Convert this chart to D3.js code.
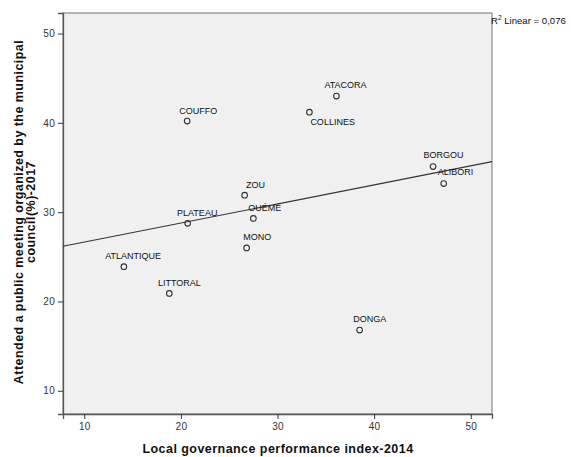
<!DOCTYPE html>
<html><head><meta charset="utf-8">
<script src="https://cdn.jsdelivr.net/npm/d3@7"></script>
<style>
body{margin:0;background:#fff;}
text{font-family:"Liberation Sans",Arial,sans-serif;}
</style></head>
<body><svg id="chart" width="571" height="457"></svg>
<script>
const departments = ["COUFFO","ATACORA","COLLINES","ZOU","OUÉMÉ","MONO","PLATEAU","ATLANTIQUE","LITTORAL","DONGA","BORGOU","ALIBORI"];
const governanceIndex = [20.65,36.1,33.3,26.6,27.5,26.8,20.7,14.1,18.8,38.5,46.1,47.2];
const attendedMeeting = [40.2,43.0,41.2,31.9,29.3,26.0,28.75,23.9,20.9,16.8,35.1,33.2];
const xTicks = [10,20,30,40,50];
const yTicks = [10,20,30,40,50];
const xTitle = "Local governance performance index-2014";
const yTitleLines = ["Attended a public meeting organized by the municipal","council(%)-2017"];
const r2Text = "0,076";

// label placement (offsets in px from the point)
const labelOffsets = [[-8,-7.5],[-12,-8.4],[1,13],[1.4,-7.6],[-5,-7.3],[-3.3,-7.7],[-10.6,-7.3],[-18.7,-7.4],[-11.3,-7.3],[-6.3,-8.3],[-9.6,-8.7],[-6,-8.3]];

const svg = d3.select("#chart");
const L=63,R=492,T=13,B=414;
const x = d3.scaleLinear().domain([7.8,52.2]).range([L,R]);
const y = d3.scaleLinear().domain([7.4,52.3]).range([B,T]);

svg.append("rect").attr("x",L).attr("y",T).attr("width",R-L).attr("height",B-T)
  .attr("fill","#f0f0f0").attr("stroke","#8c8c8c").attr("stroke-width",1.2);

const xAxis = svg.append("g").attr("transform",`translate(0,${B})`)
  .call(d3.axisBottom(x).tickValues(xTicks).tickSize(5).tickPadding(4).tickFormat(d3.format("d")));
const yAxis = svg.append("g").attr("transform",`translate(${L},0)`)
  .call(d3.axisLeft(y).tickValues(yTicks).tickSize(5).tickPadding(3).tickFormat(d3.format("d")));
[xAxis,yAxis].forEach(g=>{
  g.select(".domain").attr("stroke","#555").attr("stroke-width",1.3);
  g.selectAll(".tick line").attr("stroke","#333");
  g.selectAll(".tick text").attr("fill","#333").style("font-size","10px").style("letter-spacing","0.3px")
    .style("font-family","Liberation Sans, Arial, sans-serif");
});

// regression computed from the data
const n = governanceIndex.length;
const mx = d3.mean(governanceIndex), my = d3.mean(attendedMeeting);
let sxy=0,sxx=0;
for(let i=0;i<n;i++){sxy+=(governanceIndex[i]-mx)*(attendedMeeting[i]-my);sxx+=(governanceIndex[i]-mx)**2;}
const slope = sxy/sxx, intercept = my - slope*mx;
const [x0,x1] = x.domain();
svg.append("line").attr("x1",x(x0)).attr("y1",y(intercept+slope*x0))
  .attr("x2",x(x1)).attr("y2",y(intercept+slope*x1))
  .attr("stroke","#333").attr("stroke-width",1.1);

const pts = departments.map((d,i)=>({name:d,gx:governanceIndex[i],ay:attendedMeeting[i],off:labelOffsets[i]}));
svg.append("g").selectAll("circle").data(pts).join("circle")
  .attr("cx",d=>x(d.gx)).attr("cy",d=>y(d.ay)).attr("r",2.8)
  .attr("fill","none").attr("stroke","#333").attr("stroke-width",1.1);
svg.append("g").selectAll("text").data(pts).join("text")
  .attr("x",d=>x(d.gx)+d.off[0]).attr("y",d=>y(d.ay)+d.off[1])
  .attr("font-size","9px").attr("fill","#111").text(d=>d.name);

// R² label
const r2 = svg.append("text").attr("x",491).attr("y",24).attr("font-size","9.6px").attr("fill","#111");
r2.append("tspan").text("R");
r2.append("tspan").attr("font-size","6.5px").attr("dy",-4).text("2");
r2.append("tspan").attr("dy",4).text(" Linear = "+r2Text);

// axis titles
svg.append("text").attr("x",278).attr("y",453).attr("text-anchor","middle")
  .attr("font-size","12.5px").attr("font-weight","bold").attr("letter-spacing","0.45px").attr("fill","#111").text(xTitle);
const yt = svg.append("text").attr("transform","translate(22.5,212) rotate(-90)")
  .attr("text-anchor","middle").attr("font-size","12.5px").attr("font-weight","bold").attr("letter-spacing","0.45px").attr("fill","#111");
yTitleLines.forEach((t,i)=>yt.append("tspan").attr("x",0).attr("dy",i===0?0:12).text(t));
</script></body></html>
